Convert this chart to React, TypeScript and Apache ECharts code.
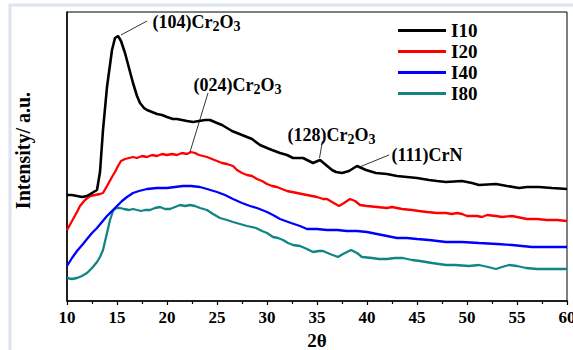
import React, { useEffect, useRef } from "react";
import * as echarts from "echarts";

const FONT = '"Times New Roman", "Liberation Serif", serif';

const seriesNames = ["I10", "I20", "I40", "I80"];
const seriesColors = ["#000000", "#ff0000", "#0000ff", "#108583"];

const theta10 = [10, 10.5, 11, 11.5, 12, 12.5, 13.0, 13.3, 13.6, 14.0, 14.5, 14.8, 15.1, 15.4, 15.8, 16.2, 16.6, 17.0, 17.3, 17.7, 18.0, 18.5, 19.0, 19.5, 20.0, 20.6, 21.0, 21.5, 22.0, 22.6, 23.2, 23.8, 24.3, 25.0, 25.5, 26.0, 26.5, 27.0, 27.5, 28.0, 28.5, 29.3, 30.0, 30.5, 31.3, 32.0, 32.6, 33.6, 34.6, 35.3, 35.9, 36.5, 36.9, 37.5, 38.2, 39.0, 39.9, 40.9, 42.0, 43.0, 44.0, 45.0, 46.2, 47.0, 47.9, 49.5, 50.5, 51.2, 52.9, 54.0, 55.2, 56.0, 57.2, 58.5, 60];
const int10 = [106, 106, 105, 104, 105, 108, 111, 129, 171, 214, 251, 263, 265, 260, 248, 233, 218, 205, 198, 193, 191, 189, 187, 186, 184, 182, 182, 181, 180, 179, 180, 181, 181, 178, 176, 173, 170, 168, 166, 164, 162, 156, 153, 151, 148, 146, 143, 143, 138, 141, 136, 131, 129, 128, 130, 135, 131, 128, 127, 125, 124, 123, 121, 120, 119, 120, 118, 116, 117, 115, 113, 114, 114, 113, 112];

const theta20 = [10, 10.5, 11, 11.3, 11.8, 12.3, 12.8, 13.3, 13.6, 14.0, 14.5, 14.8, 15.1, 15.4, 15.8, 16.2, 16.6, 17.0, 17.5, 18.0, 18.5, 19.0, 19.5, 20.0, 20.5, 21.0, 21.5, 22.0, 22.4, 22.8, 23.2, 23.6, 24.0, 24.5, 25.0, 25.5, 26.0, 26.6, 27.0, 27.5, 28.0, 28.5, 29.0, 29.5, 30.0, 30.5, 31.0, 31.5, 32.0, 33.0, 34.0, 35.0, 35.6, 36.0, 36.5, 37.2, 37.7, 38.3, 38.8, 39.3, 40.0, 41.0, 42.0, 42.5, 43.5, 44.5, 45.2, 46.0, 47.0, 47.9, 48.5, 49.0, 49.5, 50.0, 51.0, 51.5, 52.0, 52.9, 53.5, 54.5, 55.0, 56.0, 57.0, 58.0, 59.0, 60.0];
const int20 = [71, 80, 89, 95, 101, 105, 106, 107, 108, 115, 124, 129, 135, 140, 142, 143, 144, 143, 145, 144, 146, 145, 147, 146, 147, 146, 148, 147, 149, 148, 146, 145, 144, 142, 140, 138, 137, 135, 131, 128, 126, 125, 122, 120, 117, 115, 114, 112, 110, 108, 106, 104, 102, 102, 99, 95, 98, 102, 100, 96, 95, 94, 93, 94, 92, 91, 90, 89, 88, 88, 87, 88, 87, 85, 85, 84, 86, 85, 84, 85, 84, 82, 82, 81, 81, 80];

const theta40 = [10, 10.5, 11, 11.6, 12, 12.5, 13, 13.5, 14, 14.5, 15, 15.5, 16, 16.6, 17.2, 18, 19, 20, 20.8, 21.6, 22.4, 23.3, 24, 25, 25.8, 26.6, 27.5, 28.3, 29, 30, 30.6, 31.3, 32.4, 33.3, 34, 35, 36, 37, 38, 39, 40, 40.5, 41.5, 42.5, 43, 44, 45, 46.2, 47.9, 49.5, 51.2, 53, 54.5, 56.5, 58, 60];
const int40 = [35, 43, 50, 57, 62, 68, 73, 79, 85, 90, 95, 100, 104, 108, 110, 112, 113, 113, 114, 115, 115, 114, 112, 109, 106, 102, 98, 95, 93, 89, 86, 82, 78, 75, 72, 72, 71, 71, 70, 70, 69, 68, 66, 64, 63, 63, 62, 61, 59, 59, 58, 57, 56, 54, 54, 54];

const theta80 = [10, 10.5, 11, 11.5, 12, 12.5, 13, 13.3, 13.6, 14.0, 14.3, 14.6, 14.9, 15.3, 15.7, 16.2, 16.6, 17.0, 17.4, 17.8, 18.3, 18.8, 19.3, 19.8, 20.3, 20.8, 21.3, 21.8, 22.3, 22.8, 23.3, 24.0, 24.6, 25.3, 26.0, 26.6, 27.3, 28.0, 28.9, 29.5, 30.0, 30.6, 31.1, 31.6, 32.1, 32.6, 33.3, 34.0, 34.6, 35.2, 35.6, 36.3, 37.1, 37.6, 38.4, 39.0, 39.5, 40.5, 41.2, 42.0, 42.8, 43.6, 44.5, 45.3, 46.5, 47.9, 48.8, 50.2, 51.2, 52.1, 52.9, 53.5, 54.2, 55.0, 55.9, 57, 58, 59, 60];
const int80 = [23, 22, 23, 25, 28, 33, 39, 44, 51, 68, 81, 90, 93, 93, 92, 91, 92, 91, 90, 91, 91, 93, 94, 92, 92, 94, 96, 95, 96, 95, 93, 91, 87, 83, 81, 79, 77, 75, 73, 70, 68, 64, 63, 61, 58, 56, 55, 52, 49, 50, 50, 47, 44, 47, 51, 48, 44, 43, 42, 42, 43, 43, 41, 40, 38, 36, 36, 35, 36, 34, 32, 34, 36, 35, 33, 32, 32, 32, 32];

const xTicks = { min: 10, max: 60, interval: 5 };
const yRange = { min: 0, max: 289 };

// annotations: hkl index, phase, label anchor [2θ, I], arrow start, arrow tip
const annHkl = ["(104)", "(024)", "(128)", "(111)"];
const annPhase = ["Cr2O3", "Cr2O3", "Cr2O3", "CrN"];
const annLabelAt = [[18.5, 279], [22.6, 216], [32.0, 166], [42.4, 146]];
const annArrowFrom = [[18.0, 280], [24.1, 208], [35.55, 160], [42.2, 146]];
const annArrowTo = [[15.4, 266], [22.3, 149], [35.25, 143], [39.25, 134]];

function zip(xs: number[], ys: number[]) {
  return xs.map((x, i) => [x, ys[i]]);
}

function richPhase(hkl: string, phase: string) {
  if (phase === "Cr2O3") return `{n|${hkl}Cr}{s|2}{n|O}{s|3}`;
  return `{n|${hkl}${phase}}`;
}

export default function App() {
  const ref = useRef<HTMLDivElement>(null);
  useEffect(() => {
    if (!ref.current) return;
    const chart = echarts.init(ref.current, null, { renderer: "svg" });
    const thetas = [theta10, theta20, theta40, theta80];
    const ints = [int10, int20, int40, int80];
    const series: any[] = seriesNames.map((name, i) => ({
      name,
      type: "line",
      data: zip(thetas[i], ints[i]),
      symbol: "none",
      lineStyle: { color: seriesColors[i], width: i === 0 ? 2.6 : 2.3 },
      itemStyle: { color: seriesColors[i] },
      z: 10 - i,
    }));
    series[0].markLine = {
      silent: true,
      symbol: ["none", "arrow"],
      symbolSize: [0, 7],
      lineStyle: { color: "#000", width: 0.8, type: "solid" },
      label: { show: false },
      data: annArrowFrom.map((f, i) => [{ coord: f }, { coord: annArrowTo[i] }]),
    };
    series[0].markPoint = {
      silent: true,
      symbol: "rect",
      symbolSize: 1,
      itemStyle: { color: "rgba(0,0,0,0)" },
      data: annLabelAt.map((c, i) => ({
        coord: c,
        label: {
          show: true,
          position: "right",
          distance: 0,
          formatter: richPhase(annHkl[i], annPhase[i]),
          rich: {
            n: { fontFamily: FONT, fontWeight: "bold", fontSize: 18, color: "#000" },
            s: { fontFamily: FONT, fontWeight: "bold", fontSize: 14, color: "#000", padding: [9, 0, 0, 0] },
          },
        },
      })),
    };

    chart.setOption({
      animation: false,
      backgroundColor: "#fff",
      graphic: [
        {
          type: "rect",
          silent: true,
          z: -10,
          shape: { x: 10, y: 5, width: 700, height: 500 },
          style: { fill: "none", stroke: "#dbe4ef", lineWidth: 3 },
        },
      ],
      grid: {
        left: 67,
        right: 6,
        top: 12,
        bottom: 49,
        show: true,
        borderColor: "#000",
        borderWidth: 1,
        backgroundColor: "transparent",
        outerBoundsMode: "none",
        containLabel: false,
      },
      legend: {
        orient: "vertical",
        left: 398,
        top: 21,
        padding: 0,
        itemWidth: 48,
        itemHeight: 3,
        itemGap: 2,
        icon: "rect",
        data: seriesNames,
        textStyle: { fontFamily: FONT, fontWeight: "bold", fontSize: 19, lineHeight: 18, color: "#000" },
      },
      xAxis: {
        type: "value",
        min: xTicks.min,
        max: xTicks.max,
        interval: xTicks.interval,
        axisLine: { show: true, onZero: false, lineStyle: { color: "#000", width: 1.5 } },
        axisTick: { show: true, inside: false, length: 4, lineStyle: { color: "#000", width: 1.2 } },
        minorTick: { show: true, splitNumber: 2, length: 3, lineStyle: { color: "#000", width: 1.2 } },
        splitLine: { show: false },
        minorSplitLine: { show: false },
        axisLabel: { fontFamily: FONT, fontWeight: "bold", fontSize: 17, color: "#000", margin: 8 },
        name: "2θ",
        nameLocation: "middle",
        nameGap: 30,
        nameTextStyle: { fontFamily: FONT, fontWeight: "bold", fontSize: 19, color: "#000" },
      },
      yAxis: {
        type: "value",
        min: yRange.min,
        max: yRange.max,
        axisLine: { show: true, onZero: false, lineStyle: { color: "#000", width: 1.5 } },
        axisTick: { show: false },
        axisLabel: { show: false },
        splitLine: { show: false },
        name: "Intensity/ a.u.",
        nameLocation: "middle",
        nameGap: 34,
        nameRotate: 90,
        nameTextStyle: { fontFamily: FONT, fontWeight: "bold", fontSize: 20, color: "#000", padding: [0, 0, 0, 12] },
      },
      series,
    });
    return () => chart.dispose();
  }, []);
  return (
    <div
      ref={ref}
      style={{ position: "absolute", left: 0, top: 0, width: 573, height: 350, background: "#fff" }}
    />
  );
}
